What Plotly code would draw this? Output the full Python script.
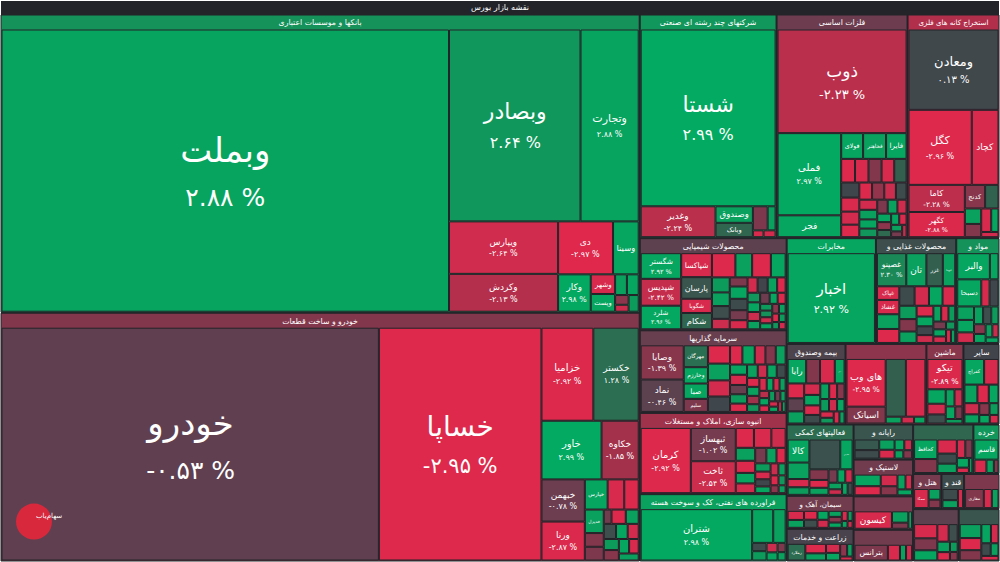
import plotly.graph_objects as go
from plotly.colors import sample_colorscale

BG = "#232429"
ROOT_TITLE = "نقشه بازار بورس"

# ---- data: (symbol, % change, market value) ; "" = unlabeled small tile ----
banks = [("وبملت", 2.88, 1346), ("وبصادر", 2.64, 269), ("وتجارت", 2.88, 119),
         ("ویپارس", -2.64, 61), ("وکردش", -2.13, 44), ("دی", -2.97, 31), ("وسینا", 2.9, 14.5),
         ("وکار", 2.98, 13), ("وشهر", -2.8, 5.1), ("وپست", 2.9, 4.6),
         ("", 2.8, 2.6), ("", 2.9, 2.6), ("", -1.5, 1.4), ("", -2.6, 1.0), ("", 2.7, 1.8)]
cars = [("خودرو", -0.53, 947), ("خساپا", -2.95, 408), ("خزامیا", -2.92, 52), ("خکستر", 1.28, 45.5),
        ("خاور", 2.99, 38), ("خکاوه", -1.85, 23.5), ("خبهمن", -0.78, 19.7), ("ورنا", -2.87, 18.2),
        ("خپارس", 2.9, 7.4), ("", -2.8, 5.4), ("", -2.9, 4.7), ("خدیزل", 2.8, 4.8),
        ("", -1.3, 2.8), ("", -1.2, 2.8), ("", -0.9, 1.2), ("", -2.9, 2.2), ("", 2.8, 2.0),
        ("", 0.3, 2.0), ("", 2.9, 1.9), ("", -2.7, 1.8), ("", 2.7, 1.8), ("", -1.4, 1.7),
        ("", 2.9, 1.6), ("", -2.8, 1.5), ("", 2.8, 1.5)]
multi = [("شستا", 2.99, 262), ("وغدیر", -2.24, 25.4), ("وصندوق", 2.8, 6.8), ("وبانک", 1.0, 5.9),
         ("", -1.2, 3.9), ("", 2.8, 2.1), ("", -2.8, 0.8), ("", -2.7, 0.9)]
metals = [("ذوب", -2.23, 147), ("فملی", 2.97, 57.5), ("فجر", 2.9, 15.3), ("فولای", 2.9, 6.2),
          ("فخاهنر", 2.8, 6.5), ("فایرا", 2.9, 5.8),
          ("", -2.9, 3.6), ("", -2.8, 3.5), ("", -1.3, 3.4), ("", -2.8, 3.3), ("", 0.8, 3.2),
          ("", 0.1, 3.0), ("", -2.8, 2.8), ("", -2.7, 2.6), ("", -2.9, 2.5), ("", -2.9, 2.4),
          ("", -1.6, 2.3), ("", -2.5, 2.2), ("", 0.2, 2.0), ("", -2.7, 2.0), ("", 2.8, 1.9),
          ("", 2.9, 1.8), ("", 2.6, 1.7), ("", -1.2, 1.6), ("", 2.8, 1.5), ("", -2.6, 1.4),
          ("", 2.9, 1.3), ("", -1.5, 1.2), ("", 1.1, 1.1), ("", 2.9, 1.0), ("", -2.9, 0.9),
          ("", 2.8, 0.8), ("", -1.0, 0.7), ("", -2.4, 0.6)]
mining = [("ومعادن", 0.13, 80), ("کگل", -2.96, 52.5), ("کچاد", -2.8, 22.2), ("کاما", -2.28, 16.9),
          ("کگهر", -2.88, 15.7), ("کدنج", -1.4, 5.3), ("", 0.9, 3.5), ("", 2.8, 2.8),
          ("", -1.3, 2.4), ("", -2.8, 2.6), ("", 2.9, 1.9), ("", -2.7, 1.0)]
chemical = [("شگستر", 2.92, 12.8), ("شپدیس", -2.42, 13.4), ("شلرد", 2.96, 11.8),
            ("شپاکسا", -2.8, 9.1), ("پارسان", 0.5, 8.2), ("شگویا", -2.8, 5.4), ("شکام", 1.0, 6.2),
            ("", -2.9, 7.0), ("", 2.8, 5.0), ("", -2.9, 5.6), ("", 2.9, 4.4), ("", 2.7, 3.3),
            ("", 2.8, 3.0), ("", 0.3, 2.8), ("", -2.5, 2.3), ("", -1.2, 2.0), ("", 2.9, 2.7),
            ("", 0.2, 2.5), ("", -1.0, 2.2), ("", -2.8, 2.0), ("", -2.7, 1.9), ("", 0.0, 1.9),
            ("", 2.8, 1.8), ("", -2.9, 1.6), ("", 2.6, 1.5), ("", 2.9, 1.5), ("", -2.5, 1.4),
            ("", 2.8, 1.3), ("", -0.8, 1.3), ("", 2.9, 1.1), ("", -2.9, 1.1), ("", 2.7, 1.0),
            ("", 2.5, 1.0), ("", -2.6, 0.9), ("", 2.9, 0.9), ("", -1.5, 0.8), ("", 2.8, 0.8),
            ("", -2.9, 0.7), ("", 2.7, 0.7), ("", 2.6, 0.6), ("", -2.7, 0.6)]
invest = [("وصایا", -1.39, 18.6), ("نماد", -0.46, 17.6), ("مهرگان", 1.3, 6.7), ("وخارزم", 2.9, 5.0),
          ("صبا", 2.9, 4.7), ("سلیم", -1.2, 4.0),
          ("", -2.9, 5.1), ("", 2.8, 4.7), ("", -2.7, 4.5), ("", 0.1, 4.3), ("", -2.9, 3.0),
          ("", 2.9, 3.0), ("", -2.6, 2.6), ("", -1.3, 2.5), ("", 2.8, 2.4), ("", 2.9, 2.2),
          ("", -2.8, 2.2), ("", -0.7, 2.0), ("", 2.7, 2.0), ("", -2.9, 1.8), ("", 2.8, 1.8),
          ("", -2.5, 1.6), ("", 2.9, 1.6), ("", 0.2, 1.5), ("", -2.9, 1.4), ("", 2.8, 1.4),
          ("", -1.8, 1.3), ("", 2.6, 1.2), ("", -2.8, 1.2), ("", 2.9, 1.1), ("", -2.7, 1.0),
          ("", 2.8, 1.0), ("", -2.2, 0.9), ("", 2.9, 0.9), ("", -2.9, 0.8), ("", 2.7, 0.8),
          ("", -1.0, 0.7), ("", 2.8, 0.7), ("", -2.8, 0.6), ("", 2.9, 0.6), ("", -2.7, 0.5),
          ("", 2.8, 0.5)]
housing = [("کرمان", -2.92, 41.5), ("ثبهساز", -1.02, 19.0), ("ثاخت", -2.54, 18.2),
           ("", -2.9, 4.6), ("", -2.8, 4.4), ("", -2.6, 3.6), ("", 2.8, 3.2), ("", -2.9, 3.0),
           ("", 2.9, 2.6), ("", -2.7, 2.4), ("", -1.0, 2.2), ("", 2.8, 2.0), ("", -2.9, 1.8),
           ("", 2.7, 1.6), ("", -2.8, 1.5), ("", 0.1, 1.4), ("", 2.9, 1.3), ("", -2.5, 1.2),
           ("", 2.8, 1.1), ("", -2.9, 1.0), ("", 2.6, 0.9), ("", -1.5, 0.8), ("", 2.8, 0.7)]
refinery = [("شتران", 2.98, 76.5), ("", 2.9, 9.5), ("", 2.8, 5.6), ("", 0.2, 1.6), ("", 2.7, 1.8),
            ("", -2.5, 1.4), ("", 2.9, 1.2), ("", -1.2, 1.0), ("", 2.8, 0.9)]
telecom = [("اخبار", 2.92, 95)]
food = [("غصینو", 2.3, 11.8), ("تان", 2.8, 8.1), ("غزر", 0.8, 6.6), ("غویتا", 2.8, 5.0),
        ("غپاک", -2.8, 3.7), ("غشاذ", -2.8, 3.9),
        ("", 2.8, 4.0), ("", -2.9, 3.8), ("", 0.2, 3.6), ("", -2.7, 3.4), ("", 2.9, 3.2),
        ("", -2.8, 3.0), ("", 2.7, 2.8), ("", -1.3, 2.6), ("", 2.8, 2.4), ("", -2.9, 2.2),
        ("", 2.9, 2.0), ("", 0.1, 1.8), ("", -2.6, 1.6), ("", 2.8, 1.5), ("", -2.8, 1.4),
        ("", 2.7, 1.3), ("", -1.0, 1.2), ("", 2.9, 1.1), ("", -2.7, 1.0), ("", 2.6, 0.9),
        ("", -2.9, 0.8), ("", 2.8, 0.7)]
pharma = [("والبر", 2.9, 10.6), ("", 2.9, 2.8), ("دسبحا", 2.9, 8.1), ("", -2.8, 2.8),
          ("", 0.1, 3.0), ("", 2.8, 2.8), ("", 2.9, 2.6), ("", -2.7, 2.2), ("", 2.8, 2.0),
          ("", 0.3, 1.8), ("", 2.7, 1.6), ("", -1.4, 1.4), ("", 2.9, 1.3), ("", 2.8, 1.1),
          ("", -2.6, 1.0), ("", 2.9, 0.9)]
insurance = [("رایا", 2.9, 5.9), ("", -1.3, 4.4), ("", -2.8, 4.7), ("سیان", 2.9, 3.1),
             ("", -2.9, 3.2), ("", -0.5, 2.8), ("", 2.8, 2.6), ("", -2.7, 2.4), ("", 2.9, 2.2),
             ("", -2.8, 2.0), ("", 0.2, 1.8), ("", 2.8, 1.8), ("", -2.9, 1.6), ("", -1.4, 1.5),
             ("", 2.7, 1.4), ("", -2.6, 1.3), ("", 2.9, 1.2), ("", -2.8, 1.1), ("", 2.6, 1.0),
             ("", -2.9, 0.9), ("", 2.8, 0.8)]
ict = [("های وب", -2.95, 24), ("اسیاتک", -1.3, 8.5), ("", 0.8, 15), ("", -2.8, 14.5),
       ("", 2.8, 1.4), ("", -2.7, 1.1), ("", 2.9, 1.0)]
machinery = [("تیکو", -2.89, 14.1), ("", 2.9, 3.5), ("", -2.7, 2.6), ("", 0.3, 2.2), ("", 2.8, 2.0),
             ("", -2.5, 1.8), ("", 2.9, 1.6), ("", -1.2, 1.2), ("", 2.7, 1.0)]
other = [("کفراج", 2.9, 6.7), ("", -2.8, 4.9), ("", 2.8, 3.2), ("", -2.9, 2.8), ("", 2.9, 2.4),
         ("", -2.6, 2.2), ("", 2.8, 1.8), ("", -1.4, 1.6), ("", 2.7, 1.4), ("", 2.9, 1.2),
         ("", -2.8, 1.0)]
auxiliary = [("کالا", 2.9, 6.7), ("", 2.8, 4.8), ("", -2.8, 2.4), ("", 2.7, 2.2), ("", 0.4, 12.3),
             ("حفارس", 2.9, 4.9), ("", -1.3, 2.7), ("", -2.9, 2.0), ("", 2.8, 1.8), ("", -1.0, 1.6),
             ("", 2.9, 1.4), ("", -2.7, 1.3), ("", 2.8, 1.2), ("", -2.6, 1.0), ("", 2.9, 0.9),
             ("", 0.2, 0.8)]
cement = [("", -2.8, 3.0), ("", 2.8, 2.6), ("", -2.9, 2.4), ("", 0.3, 2.2), ("", 2.9, 2.0),
          ("", -2.7, 1.8), ("", 2.8, 1.6), ("", -1.4, 1.5), ("", 2.9, 1.4), ("", -2.8, 1.2),
          ("", 2.7, 1.0), ("", 2.9, 0.8), ("", -2.6, 0.7)]
farming = [("زملارد", 1.2, 6.0), ("", -2.9, 4.0), ("", 2.8, 3.0), ("", -2.7, 2.6), ("", 2.9, 2.2),
           ("", -1.5, 1.8), ("", 2.8, 1.4), ("", -2.8, 1.0)]
computer = [("", 0.6, 5.0), ("", 0.2, 4.0), ("", 2.8, 3.0), ("", -2.8, 2.6), ("", 2.9, 2.0),
            ("", -2.6, 1.6), ("", 2.8, 1.4), ("", -1.3, 1.4)]
rubber = [("", 2.9, 5.6), ("", -2.9, 4.4), ("", -2.7, 3.6), ("", -1.4, 2.8), ("", 2.8, 2.2),
          ("", -2.8, 1.8), ("", 2.9, 1.6)]
engineering = [("کیسون", -2.8, 13.0), ("", 2.8, 3.7), ("", -1.2, 2.0), ("", 2.8, 1.3)]
electric = [("بترانس", -1.2, 11.0), ("", -2.8, 4.0), ("", 2.8, 2.0), ("", -2.7, 2.0)]
transport = [("کحافظ", 2.9, 7.0), ("", -1.3, 5.0), ("", -2.8, 4.2), ("", 0.2, 3.0), ("", 2.8, 2.8),
             ("", -2.7, 2.4), ("", -1.2, 2.0), ("", 2.9, 1.8), ("", -2.8, 1.0), ("", 2.7, 0.8)]
retail = [("قاسم", 2.9, 7.8), ("", -2.8, 2.6), ("", 2.8, 1.6), ("", -1.3, 1.0)]
hotel = [("سمگا", -2.8, 5.5), ("", 2.8, 2.5), ("", -1.3, 2.0)]
sugar = [("", 0.2, 3.5), ("", 2.8, 2.5), ("", -2.8, 2.0)]
contract = [("مفاری", -1.3, 7.0), ("", -2.8, 3.0), ("", 2.8, 2.5)]
textile = [("", -2.8, 5.0), ("", -1.2, 4.2), ("", 2.9, 3.6), ("", -2.7, 3.0), ("", 0.3, 2.4),
           ("", 2.8, 2.0), ("", -2.9, 1.6), ("", 2.7, 1.2), ("", -1.4, 1.0)]
nonmetal = [("", 2.8, 4.6), ("", -2.9, 4.0), ("", -1.3, 3.4), ("", 2.9, 2.8), ("", -2.7, 2.2),
            ("", 0.2, 1.8), ("", 2.8, 1.5), ("", -2.8, 1.2)]

# sector: (id, header text shown, % for colour, children)
SECTORS = [
    ("s01", "بانکها و موسسات اعتباری", 2.5, banks),
    ("s02", "خودرو و ساخت قطعات", -1.3, cars),
    ("s03", "شرکتهای چند رشته ای صنعتی", 2.6, multi),
    ("s04", "فلزات اساسی", -0.8, metals),
    ("s05", "استخراج کانه های فلزی", -2.1, mining),
    ("s06", "محصولات شیمیایی", -0.5, chemical),
    ("s07", "سرمایه گذاریها", -0.7, invest),
    ("s08", "انبوه سازی، املاک و مستغلات", -1.8, housing),
    ("s09", "فراورده های نفتی، کک و سوخت هسته", 2.8, refinery),
    ("s10", "مخابرات", 2.9, telecom),
    ("s11", "محصولات غذایی و", 0.3, food),
    ("s12", "مواد و", 2.5, pharma),
    ("s13", "بیمه وصندوق", -0.2, insurance),
    ("s14", "", -1.5, ict),
    ("s15", "ماشین", -1.4, machinery),
    ("s16", "سایر", 0.0, other),
    ("s17", "فعالیتهای کمکی", 1.2, auxiliary),
    ("s18", "سیمان، آهک و", -0.9, cement),
    ("s19", "زراعت و خدمات", -0.1, farming),
    ("s20", "رایانه و", 0.5, computer),
    ("s21", "لاستیک و", -0.9, rubber),
    ("s22", "", -1.0, engineering),
    ("s23", "", -0.9, electric),
    ("s24", "", 1.0, transport),
    ("s25", "خرده", 2.6, retail),
    ("s26", "هتل و", -1.0, hotel),
    ("s27", "قند و", 0.2, sugar),
    ("s28", "", -1.2, contract),
    ("s29", "", -0.5, textile),
    ("s30", "", 0.5, nonmetal),
]

# ---- style ----
CSCALE = [[0.0, "rgb(224,40,76)"], [0.0833, "rgb(202,45,77)"], [0.1667, "rgb(172,48,76)"],
          [0.2667, "rgb(135,54,76)"], [0.4, "rgb(100,64,80)"], [0.5, "rgb(66,68,76)"],
          [0.7, "rgb(44,108,80)"], [0.9, "rgb(24,140,88)"], [1.0, "rgb(3,170,97)"]]
FONT_SIZE = {"وبملت": 34, "خودرو": 34, "خساپا": 28, "وبصادر": 22, "شستا": 22, "ذوب": 17,
             "ومعادن": 13, "اخبار": 15, "وتجارت": 11, "کگل": 11, "فملی": 10, "شتران": 10,
             "کرمان": 10, "خزامیا": 10, "خاور": 10, "های وب": 10, "تیکو": 10}
NAME_ONLY = {"وسینا", "وشهر", "وپست", "وصندوق", "وبانک", "فجر", "فولای", "فخاهنر", "فایرا",
             "کچاد", "کدنج", "شپاکسا", "پارسان", "شگویا", "شکام", "مهرگان", "وخارزم", "صبا",
             "سلیم", "تان", "غزر", "غویتا", "غپاک", "غشاذ", "والبر", "دسبحا", "رایا", "سیان",
             "اسیاتک", "کفراج", "کالا", "حفارس", "زملارد", "کحافظ", "قاسم", "سمگا", "مفاری",
             "کیسون", "بترانس", "خپارس", "خدیزل"}
FA = str.maketrans("0123456789", "۰۱۲۳۴۵۶۷۸۹")


def pct_text(p):
    s = f"{abs(p):.2f}".translate(FA)
    return ("-" if p < 0 else "") + s + " %"


def colour(p):
    t = min(max((p + 3) / 6, 0), 1)
    return sample_colorscale(CSCALE, [t])[0]


ids, labels, parents, values, colors, texts, sizes = [], [], [], [], [], [], []
ids.append("root"); labels.append(ROOT_TITLE); parents.append(""); values.append(0)
colors.append(BG); texts.append(ROOT_TITLE); sizes.append(9)

for sid, head, sp, kids in SECTORS:
    ids.append(sid); labels.append(head if head else " "); parents.append("root"); values.append(0)
    colors.append(colour(sp)); texts.append(head if head else " "); sizes.append(9.5)
    for i, (name, p, v) in enumerate(kids):
        ids.append(f"{sid}-{i}")
        labels.append(name if name else " ")
        parents.append(sid)
        values.append(v)
        colors.append(colour(p))
        fs = FONT_SIZE.get(name, 9)
        sizes.append(fs)
        if not name:
            texts.append("")
        elif name in NAME_ONLY:
            texts.append(name)
        else:
            ps = max(8, round(fs * 0.74))
            texts.append(f"{name}<br><span style='font-size:{ps}px'>{pct_text(p)}</span>")

fig = go.Figure(go.Treemap(
    ids=ids, labels=labels, parents=parents, values=values,
    text=texts, texttemplate="%{text}", textposition="middle center",
    branchvalues="remainder", sort=False,
    marker=dict(colors=colors, line=dict(color=BG, width=1),
                pad=dict(t=15, l=1, r=1, b=1)),
    tiling=dict(packing="squarify", squarifyratio=1.618034, pad=1),
    textfont=dict(family="DejaVu Sans", color="white", size=sizes),
    outsidetextfont=dict(family="DejaVu Sans", color="white", size=9),
    pathbar=dict(visible=False),
    hoverinfo="skip",
))

# small site badge at the bottom-left
fig.add_shape(type="circle", xref="paper", yref="paper", x0=0.016, x1=0.052, y0=0.04, y1=0.104,
              fillcolor="#d8283c", line=dict(width=0))
fig.add_annotation(x=0.034, y=0.072, xref="paper", yref="paper", text="سهام‌یاب",
                   showarrow=False, font=dict(family="DejaVu Sans", size=7, color="white"))

fig.update_layout(width=1000, height=562, margin=dict(l=0, r=0, t=0, b=0),
                  paper_bgcolor=BG, plot_bgcolor=BG)
fig.write_html("out.html")
